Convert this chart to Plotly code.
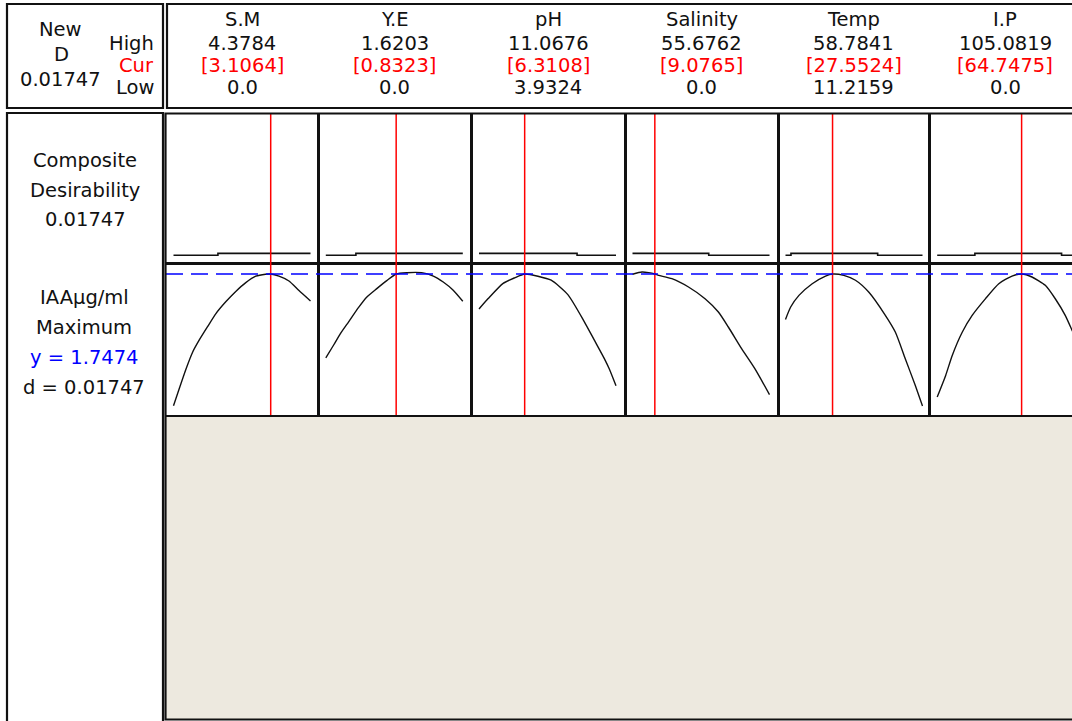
import plotly.graph_objects as go

W, H = 1072, 721

# ---------------- data ----------------
factor_names = ["S.M", "Y.E", "pH", "Salinity", "Temp", "I.P"]
high_vals = [4.3784, 1.6203, 11.0676, 55.6762, 58.7841, 105.0819]
low_vals = [0.0, 0.0, 3.9324, 0.0, 11.2159, 0.0]
cur_vals = [3.1064, 0.8323, 6.3108, 9.0765, 27.5524, 64.7475]
high_labels = ["4.3784", "1.6203", "11.0676", "55.6762", "58.7841", "105.0819"]
cur_labels = ["[3.1064]", "[0.8323]", "[6.3108]", "[9.0765]", "[27.5524]", "[64.7475]"]
low_labels = ["0.0", "0.0", "3.9324", "0.0", "11.2159", "0.0"]

y_opt = 1.7474
d_composite = 0.01747
response_name = "IAAµg/ml"
goal = "Maximum"

# predicted response curves (IAA µg/ml) vs each factor
sm_x = [0.0, 0.18, 0.40, 0.61, 0.82, 1.09, 1.35, 1.67, 1.99, 2.31, 2.63, 2.94, 3.1064, 3.37, 3.69, 4.01, 4.3784]
sm_y = [0.10, 0.31, 0.56, 0.77, 0.92, 1.09, 1.25, 1.40, 1.53, 1.64, 1.72, 1.745, 1.7474, 1.72, 1.66, 1.54, 1.41]

ye_x = [0.0, 0.093, 0.171, 0.27, 0.388, 0.486, 0.603, 0.721, 0.8323, 0.957, 1.134, 1.272, 1.389, 1.507, 1.6203]
ye_y = [0.70, 0.86, 1.00, 1.15, 1.33, 1.46, 1.565, 1.665, 1.7474, 1.764, 1.764, 1.722, 1.647, 1.544, 1.406]

ph_x = [3.9324, 4.41, 5.19, 5.79, 6.3108, 7.00, 7.69, 8.56, 9.42, 9.94, 10.46, 10.72, 11.0676]
ph_y = [1.31, 1.44, 1.63, 1.70, 1.7474, 1.72, 1.67, 1.49, 1.15, 0.92, 0.69, 0.56, 0.35]

sal_x = [0.0, 3.85, 6.56, 9.0765, 10.61, 15.99, 22.76, 29.48, 34.90, 38.95, 44.34, 49.72, 55.6762]
sal_y = [1.745, 1.772, 1.764, 1.7474, 1.731, 1.689, 1.585, 1.438, 1.272, 1.085, 0.814, 0.564, 0.24]

temp_x = [11.2159, 13.01, 15.89, 20.49, 25.12, 27.5524, 31.46, 35.5, 40.1, 45.88, 49.34, 52.8, 56.26, 58.7841]
temp_y = [1.18, 1.335, 1.48, 1.626, 1.722, 1.7474, 1.731, 1.669, 1.522, 1.231, 1.022, 0.689, 0.356, 0.097]

ip_x = [0.0, 6.5, 11.54, 19.18, 26.82, 37.07, 47.23, 57.39, 64.7475, 72.68, 82.92, 90.56, 98.2, 103.8, 105.0819]
ip_y = [0.21, 0.48, 0.73, 1.02, 1.23, 1.44, 1.626, 1.722, 1.7474, 1.71, 1.606, 1.438, 1.231, 1.031, 0.985]

# composite desirability (step traces as displayed)
dsm_x = [0.0, 1.42, 4.3784];            dsm_y = [0.005, 0.0175, 0.0175]
dye_x = [0.0, 0.356, 1.6203];           dye_y = [0.005, 0.0175, 0.0175]
dph_x = [3.9324, 9.04, 11.0676];        dph_y = [0.0175, 0.005, 0.005]
dsal_x = [0.0, 30.98, 55.6762];         dsal_y = [0.0175, 0.005, 0.005]
dtemp_x = [11.2159, 13.12, 43.22, 58.7841]; dtemp_y = [0.005, 0.0175, 0.005, 0.005]
dip_x = [0.0, 28.9, 95.4, 105.0819];    dip_y = [0.005, 0.0175, 0.005, 0.005]

resp_x = [sm_x, ye_x, ph_x, sal_x, temp_x, ip_x]
resp_y = [sm_y, ye_y, ph_y, sal_y, temp_y, ip_y]
des_x = [dsm_x, dye_x, dph_x, dsal_x, dtemp_x, dip_x]
des_y = [dsm_y, dye_y, dph_y, dsal_y, dtemp_y, dip_y]

# ---------------- layout geometry (pixels) ----------------
panel_edges = [166, 318.3, 471.5, 625, 778, 929.7, 1081]
inset_left = 7.5
data_width = 137.0
top_row = (114, 263)
bot_row = (263, 415)
des_range = [-0.05, 1.0]
resp_range = [-0.015, 1.885]

FONT = "DejaVu Sans"
FS = 19.5
TXT = "#111111"


def px(x):
    return x / W


def py(y):
    return 1 - y / H


def ax_id(k):
    return "" if k == 1 else str(k)


fig = go.Figure()
layout_axes = {}
shapes = []

for i in range(6):
    L = panel_edges[i]
    R = panel_edges[i + 1]
    s = data_width / (high_vals[i] - low_vals[i])
    r0 = low_vals[i] - inset_left / s
    R_vis = min(R, W)
    r1 = r0 + (R_vis - L) / s
    last = (i == 5)
    for row in range(2):
        k = i + 1 + 6 * row
        a = ax_id(k)
        rows = top_row if row == 0 else bot_row
        common = dict(showgrid=False, zeroline=False, showticklabels=False, ticks="",
                      showline=True, linecolor="#111111", linewidth=1.5, fixedrange=True)
        layout_axes["xaxis" + a] = dict(domain=[px(L), px(R_vis)], range=[r0, r1], anchor="y" + a,
                                        mirror=True, **common)
        layout_axes["yaxis" + a] = dict(domain=[py(rows[1]), py(rows[0])],
                                        range=des_range if row == 0 else resp_range,
                                        anchor="x" + a, mirror=(not last), **common)
        if row == 0:
            fig.add_trace(go.Scatter(x=des_x[i], y=des_y[i], mode="lines", line_shape="hv",
                                     line=dict(color="#111111", width=1.6),
                                     xaxis="x" + a, yaxis="y" + a, showlegend=False,
                                     hoverinfo="skip"))
        else:
            fig.add_trace(go.Scatter(x=resp_x[i], y=resp_y[i], mode="lines",
                                     line=dict(color="#111111", width=1.4, shape="spline", smoothing=0.6),
                                     xaxis="x" + a, yaxis="y" + a, showlegend=False,
                                     hoverinfo="skip"))
        shapes.append(dict(type="line", xref="x" + a, yref="y" + a + " domain",
                           x0=cur_vals[i], x1=cur_vals[i], y0=0, y1=1,
                           line=dict(color="#FF0000", width=1.5), layer="above"))

# blue dashed optimum line across all response panels
shapes.append(dict(type="line", xref="paper", yref="y7", x0=px(panel_edges[0]), x1=1.0,
                   y0=y_opt, y1=y_opt, line=dict(color="#0000FF", width=1.6, dash="17px,8px"),
                   layer="above"))

# frames / background
shapes.insert(0, dict(type="rect", xref="paper", yref="paper", x0=px(165.5), x1=px(1085),
                      y0=py(719), y1=py(415), fillcolor="#EDE9DF", line=dict(width=0), layer="below"))
frame_line = dict(color="#111111", width=2.2)
for (x0, y0, x1, y1) in [(7, 4, 163, 108), (167, 4, 1085, 108), (7, 113, 163, 730), (165.5, 113.5, 1085, 719.5)]:
    shapes.append(dict(type="rect", xref="paper", yref="paper", x0=px(x0), x1=px(x1),
                       y0=py(y1), y1=py(y0), line=frame_line, fillcolor="rgba(0,0,0,0)"))

annotations = []


def ann(text, x, y, color=TXT, xanchor="center", size=FS):
    annotations.append(dict(text=text, x=px(x), y=py(y), xref="paper", yref="paper",
                            xanchor=xanchor, yanchor="middle", showarrow=False,
                            font=dict(family=FONT, size=size, color=color)))


# header left box
ann("New", 60, 30)
ann("D", 61, 55)
ann(f"{d_composite:.5f}", 60, 80)
ann("High", 156, 44, xanchor="right")
ann("Cur", 156, 66, color="#FF0000", xanchor="right")
ann("Low", 156, 88, xanchor="right")

# header factor columns
for i in range(6):
    cx = (panel_edges[i] + panel_edges[i + 1]) / 2
    ann(factor_names[i], cx, 20)
    ann(high_labels[i], cx, 43.5)
    ann(cur_labels[i], cx, 65.5, color="#FF0000")
    ann(low_labels[i], cx, 88)

# left info box
ann("Composite", 85, 160)
ann("Desirability", 85, 190)
ann(f"{d_composite:.5f}", 85, 220)
ann(response_name, 84, 297)
ann(goal, 84, 327)
ann(f"y = {y_opt:.4f}", 84, 357, color="#0000FF")
ann(f"d = {d_composite:.5f}", 84, 387)

fig.update_layout(width=W, height=H, margin=dict(l=0, r=0, t=0, b=0),
                  paper_bgcolor="white", plot_bgcolor="white",
                  shapes=shapes, annotations=annotations, showlegend=False, **layout_axes)

fig.write_html("out.html", config={"displayModeBar": False, "staticPlot": True},
               post_script="document.body.style.margin='0';document.body.style.overflow='hidden';")
